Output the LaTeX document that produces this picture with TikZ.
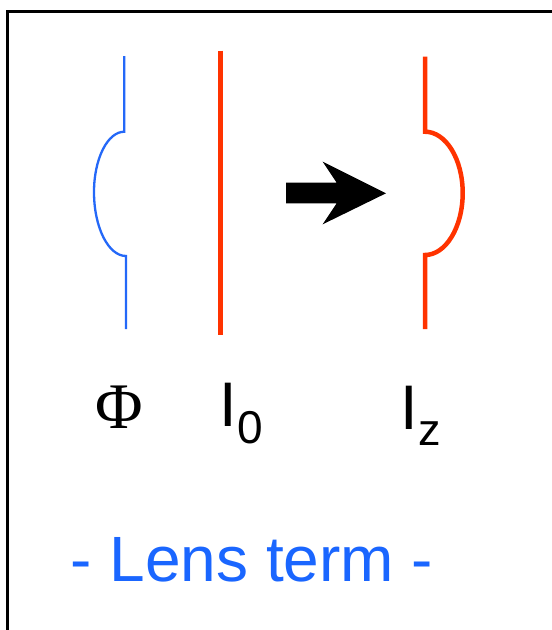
\documentclass[tikz,border=0pt]{standalone}
\usepackage{fontspec}
\setmainfont{Liberation Sans}
\newfontfamily\phifont{Liberation Serif}
\definecolor{lensblue}{HTML}{2468F8}
\definecolor{lensred}{HTML}{FF3300}
\definecolor{textblue}{HTML}{1A66FF}
\tikzset{
  frame/.style={draw=black, line width=3pt},
  philine/.style={draw=lensblue, line width=2.3pt},
  redline/.style={draw=lensred, line width=4.5pt},
  label/.style={inner sep=0pt, outer sep=0pt, text=black},
  bigarrow/.style={fill=black, draw=none}
}
\begin{document}
\begin{tikzpicture}[x=1pt,y=-1pt]
\useasboundingbox (0,0) rectangle (552,630);
\clip (0,0) rectangle (552,630);
\fill[white] (0,0) rectangle (552,630);
% frame
\draw[frame] (7.7,11) rectangle (580,660);
% phase lens (blue)
\draw[philine] (124.3,56) -- (124.3,131.7)
  .. controls (107.6,131.7) and (94,158.7) .. (94,192)
  .. controls (94,227.3) and (108.3,256) .. (126,256)
  -- (126,329);
% I0 (straight red)
\draw[redline, line width=5pt] (220.7,50.7) -- (220.7,335);
% Iz (curved red)
\draw[redline] (425,56.7) -- (425,131.7)
  .. controls (445.8,131.7) and (462.7,159) .. (462.7,193)
  .. controls (462.7,227.2) and (445.8,255) .. (425,255)
  -- (425,329);
% arrow
\fill[bigarrow] (286,182.7) -- (336.7,182.7) -- (322.7,161.7) -- (386,193.3)
  -- (322.7,224.3) -- (336.7,203.3) -- (286,203.3) -- cycle;
% labels
\node[label, anchor=base] (phi) at (119,428) {\phifont\fontsize{65}{65}\selectfont Φ};
\node[label, anchor=base west] (izero) at (219.8,426.7)
  {\fontsize{63}{63}\selectfont I\raisebox{-16.6pt}{\fontsize{46}{46}\selectfont 0}};
\node[label, anchor=base west] (iz) at (400.8,429.3)
  {\fontsize{63}{63}\selectfont I\raisebox{-15.7pt}{\fontsize{45}{45}\selectfont z}};
\node[label, anchor=base west, text=textblue] (lens) at (70.5,581)
  {\fontsize{64}{64}\selectfont - Lens term -};
\end{tikzpicture}
\end{document}
